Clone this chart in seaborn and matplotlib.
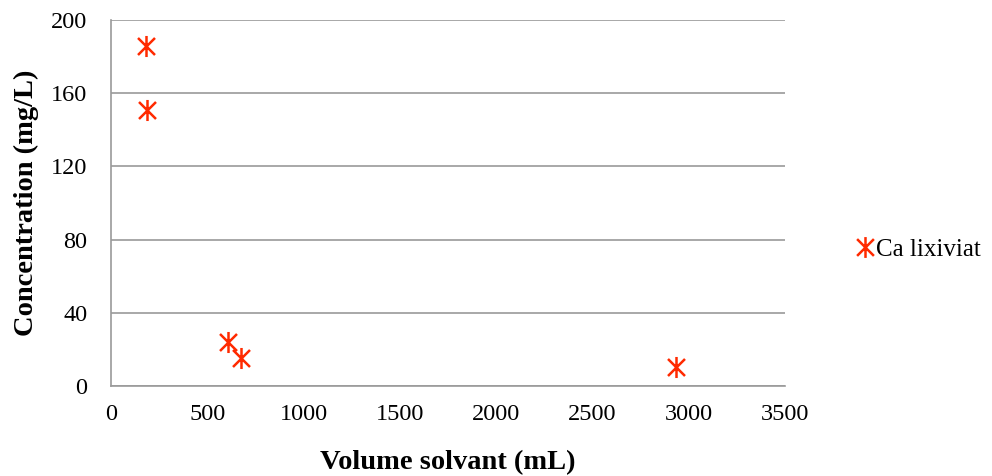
import numpy as np
import pandas as pd
import matplotlib
matplotlib.use("Agg")
import matplotlib.pyplot as plt
from matplotlib.path import Path
from matplotlib.lines import Line2D
import seaborn as sns

# Calcium concentration in the leachate vs. solvent volume
volume_ml = [182, 187, 608, 675, 2934]
concentration = [186, 151, 24, 15.3, 10.4]
series_name = "Ca lixiviat"

x_ticks = [0, 500, 1000, 1500, 2000, 2500, 3000, 3500]
y_ticks = [0, 40, 80, 120, 160, 200]

df = pd.DataFrame({"Volume solvant (mL)": volume_ml,
                   "Concentration (mg/L)": concentration,
                   "Série": series_name})

sns.set_theme(style="white")
plt.rcParams["font.family"] = ["Liberation Serif", "DejaVu Serif"]
plt.rcParams["text.color"] = "#000000"

# Asterisk marker: an X plus a vertical bar
d = 0.5
star = Path([(-d, -d), (d, d), (-d, d), (d, -d), (0, -0.62), (0, 0.62)],
            [Path.MOVETO, Path.LINETO, Path.MOVETO, Path.LINETO, Path.MOVETO, Path.LINETO])
color = "#FF2A00"

fig = plt.figure(figsize=(9.92, 4.76), dpi=100)
ax = fig.add_axes([0.1119, 0.189, 0.6794, 0.769])

sns.scatterplot(data=df, x="Volume solvant (mL)", y="Concentration (mg/L)",
                marker=star, s=230, color=color, edgecolor=color,
                linewidth=1.8, ax=ax, legend=False, zorder=3)

ax.set_xlim(0, 3500)
ax.set_ylim(0, 200)
ax.set_xticks(x_ticks)
ax.set_yticks(y_ticks)
ax.tick_params(axis="both", length=0, labelsize=17.5, colors="#000000")
ax.tick_params(axis="y", pad=17)
ax.tick_params(axis="x", pad=13)
ax.yaxis.grid(True, color="#9a9a9a", linewidth=1.2)
ax.xaxis.grid(False)
for side in ["top", "right"]:
    ax.spines[side].set_visible(False)
for side in ["left", "bottom"]:
    ax.spines[side].set_color("#9a9a9a")
    ax.spines[side].set_linewidth(1.2)

ax.set_xlabel("Volume solvant (mL)", fontsize=20.5, fontweight="bold", labelpad=18,
              color="#000000")
ax.set_ylabel("Concentration (mg/L)", fontsize=20.5, fontweight="bold", labelpad=9,
              color="#000000")

handle = Line2D([], [], linestyle="none", marker=star, markersize=15,
                markeredgecolor=color, markeredgewidth=1.8, color=color)
leg = fig.legend([handle], [series_name], loc="center left",
                 bbox_to_anchor=(0.862, 0.475), frameon=False, fontsize=18,
                 handletextpad=0.05, handlelength=0.8, borderaxespad=0, borderpad=0)
for t in leg.get_texts():
    t.set_color("#000000")

fig.savefig("out.png", dpi=100)
